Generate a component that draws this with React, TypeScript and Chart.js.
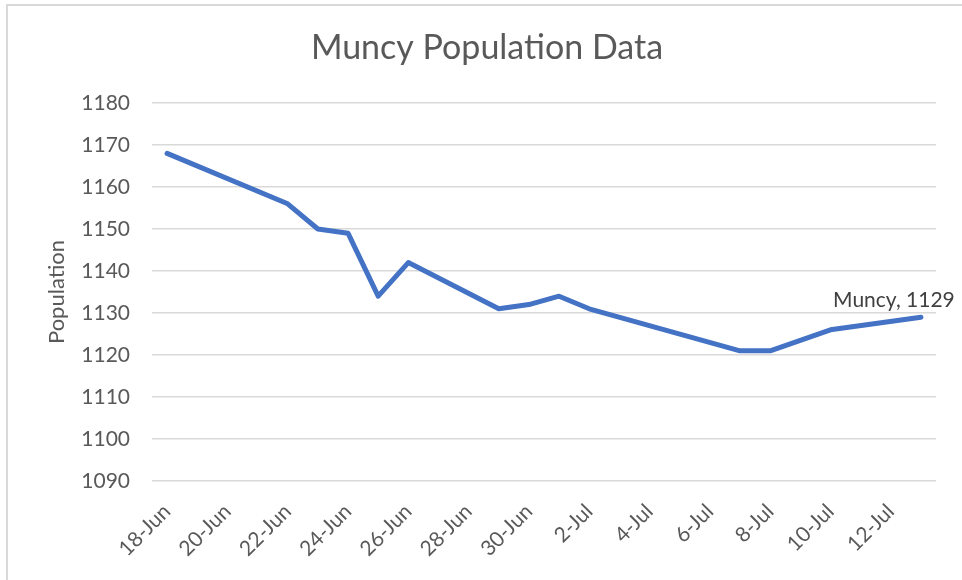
import React, { useEffect, useRef } from "react";
import { Chart, registerables } from "chart.js";

Chart.register(...registerables);

const chartTitle = "Muncy Population Data";
const seriesName = "Muncy";
const yAxisTitle = "Population";

const days = [
  "18-Jun", "19-Jun", "20-Jun", "21-Jun", "22-Jun", "23-Jun", "24-Jun", "25-Jun", "26-Jun",
  "27-Jun", "28-Jun", "29-Jun", "30-Jun", "1-Jul", "2-Jul", "3-Jul", "4-Jul", "5-Jul",
  "6-Jul", "7-Jul", "8-Jul", "9-Jul", "10-Jul", "11-Jul", "12-Jul", "13-Jul",
];

const population: (number | null)[] = [
  1168, null, null, null, 1156, 1150, 1149, 1134, 1142,
  null, null, 1131, 1132, 1134, 1131, null, null, null,
  null, 1121, 1121, null, 1126, null, null, 1129,
];

const yMin = 1090;
const yMax = 1180;
const yStep = 10;

const FONT = "Lato, 'Noto Sans', sans-serif";
const TEXT = "#595959";
const GRID = "#d9d9d9";
const LINE = "#4472C4";

const framePlugin = {
  id: "frame",
  beforeDraw(chart: any) {
    const ctx = chart.ctx;
    ctx.save();
    ctx.fillStyle = "#ffffff";
    ctx.fillRect(0, 0, chart.width, chart.height);
    ctx.strokeStyle = GRID;
    ctx.lineWidth = 2;
    ctx.beginPath();
    ctx.moveTo(7, chart.height);
    ctx.lineTo(7, 5);
    ctx.lineTo(chart.width, 5);
    ctx.stroke();
    ctx.font = `34px ${FONT}`;
    ctx.fillStyle = TEXT;
    ctx.textAlign = "center";
    ctx.textBaseline = "middle";
    ctx.fillText(chartTitle, 487, 48);
    ctx.restore();
  },
};

const lastLabelPlugin = {
  id: "lastLabel",
  afterDatasetsDraw(chart: any) {
    const meta = chart.getDatasetMeta(0);
    const data = chart.data.datasets[0].data;
    let idx = data.length - 1;
    while (idx >= 0 && data[idx] == null) idx--;
    if (idx < 0) return;
    const pt = meta.data[idx];
    const ctx = chart.ctx;
    ctx.save();
    ctx.font = `21px ${FONT}`;
    ctx.fillStyle = "#404040";
    ctx.textAlign = "center";
    ctx.textBaseline = "alphabetic";
    ctx.fillText(`${chart.data.datasets[0].label}, ${data[idx]}`, pt.x - 27, pt.y - 10);
    ctx.restore();
  },
};

export default function App() {
  const ref = useRef<HTMLCanvasElement>(null);
  useEffect(() => {
    if (!ref.current) return;
    const chart = new Chart(ref.current, {
      type: "line",
      data: {
        labels: days,
        datasets: [
          {
            label: seriesName,
            data: population,
            borderColor: LINE,
            backgroundColor: LINE,
            borderWidth: 5,
            pointRadius: 0,
            pointHoverRadius: 0,
            spanGaps: true,
            tension: 0,
            borderJoinStyle: "round",
            borderCapStyle: "round",
          },
        ],
      },
      options: {
        responsive: false,
        animation: false,
        events: [],
        layout: { padding: { left: 0, right: 26, top: 103, bottom: 0 } },
        plugins: {
          legend: { display: false },
          tooltip: { enabled: false },
          title: { display: false },
        },
        scales: {
          x: {
            type: "category",
            offset: true,
            grid: { display: false, drawTicks: false },
            border: { display: false },
            afterFit: (scale: any) => {
              scale.height = 99;
            },
            ticks: {
              autoSkip: false,
              minRotation: 45,
              maxRotation: 45,
              padding: 18,
              color: TEXT,
              font: { family: FONT, size: 21 },
              callback: (_v: any, i: number) => (i % 2 === 0 ? days[i] : ""),
            },
          },
          y: {
            min: yMin,
            max: yMax,
            grid: { color: GRID, lineWidth: 1.5, drawTicks: false },
            border: { display: false },
            afterFit: (scale: any) => {
              scale.width = 152;
            },
            ticks: {
              stepSize: yStep,
              padding: 22,
              color: TEXT,
              font: { family: FONT, size: 21 },
              callback: (v: any) => String(v),
            },
            title: {
              display: true,
              text: yAxisTitle,
              color: TEXT,
              font: { family: FONT, size: 22 },
              padding: { top: 44, bottom: 0 },
            },
          },
        },
      },
      plugins: [framePlugin, lastLabelPlugin],
    });
    return () => chart.destroy();
  }, []);
  return (
    <div style={{ position: "fixed", left: 0, top: 0, width: 962, height: 580, background: "#fff" }}>
      <canvas ref={ref} width={962} height={580} style={{ display: "block" }} />
    </div>
  );
}
